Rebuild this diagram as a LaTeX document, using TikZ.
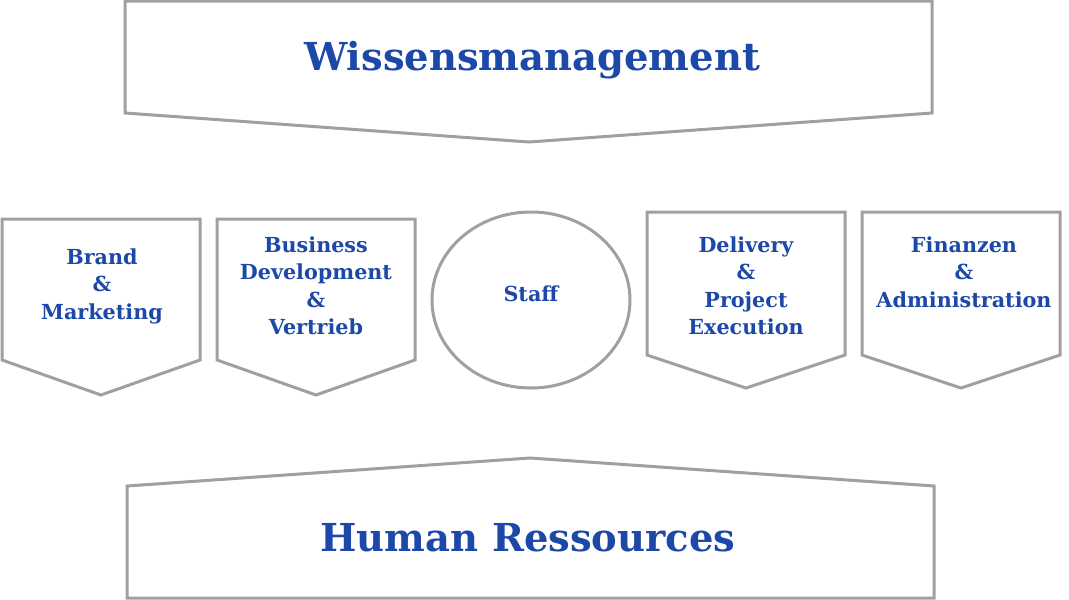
\documentclass[tikz,border=0pt]{standalone}
\usepackage{fontspec}
\setmainfont{DejaVu Serif}
\usepackage{tikz}
\usetikzlibrary{positioning}
\definecolor{framegray}{RGB}{160,160,160}
\definecolor{textblue}{RGB}{28,72,168}

\begin{document}
\begin{tikzpicture}[x=1pt,y=-1pt,node distance=27pt]
    % frames and text styles
    \tikzstyle{frame}=[draw=framegray,line width=3pt,fill=white,line join=miter]
    \tikzstyle{bigtext}=[text=textblue,font=\fontsize{38.5}{44}\selectfont\bfseries]
    \tikzstyle{boxtext}=[text=textblue,align=center,font=\fontsize{20.7}{27.5}\selectfont\bfseries]

    \useasboundingbox (0,0) rectangle (1069,600);

    % top and bottom arrows
    \draw [frame] (125,1) -- (932,1) -- (932,113) -- (529,142) -- (125,113) -- cycle;
    \draw [frame] (127,598) -- (934,598) -- (934,486) -- (530,458) -- (127,486) -- cycle;

    % middle boxes
    \draw [frame] (2,219) -- (200,219) -- (200,360) -- (101,395) -- (2,360) -- cycle;
    \draw [frame] (217,219) -- (415,219) -- (415,360) -- (316,395) -- (217,360) -- cycle;
    \draw [frame] (531,300) ellipse [x radius=99, y radius=88];
    \draw [frame] (647,212) -- (845,212) -- (845,355) -- (746,388) -- (647,355) -- cycle;
    \draw [frame] (862,212) -- (1060,212) -- (1060,355) -- (961,388) -- (862,355) -- cycle;

    \node [bigtext] (wissen) at (532,60) {Wissensmanagement};
    \node [bigtext] (hr) at (528,538) {Human Ressources};

    \node [boxtext] (brand) at (102,286) {Brand\\\&\\Marketing};
    \node [boxtext] (business) at (316,286) {Business\\Development\\\&\\Vertrieb};
    \node [boxtext] (staff) at (531,294) {Staff};
    \node [boxtext] (delivery) at (746,286) {Delivery\\\&\\Project\\Execution};
    \node [boxtext] (finanzen) at (964,272) {Finanzen\\\&\\Administration};

\end{tikzpicture}
\end{document}
